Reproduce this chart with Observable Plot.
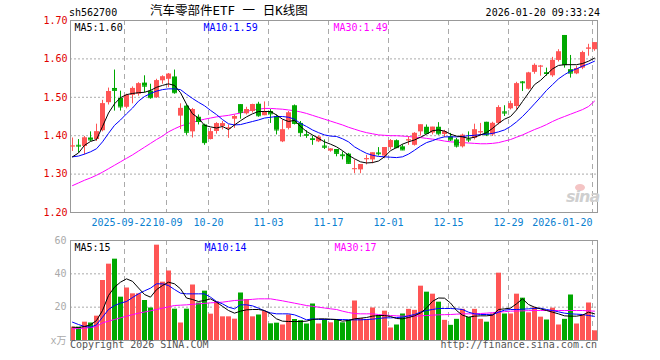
<!DOCTYPE html>
<html><head><meta charset="utf-8">
<script src="https://cdn.jsdelivr.net/npm/d3@7"></script>
<script src="https://cdn.jsdelivr.net/npm/@observablehq/plot@0.6"></script>
<style>
body{margin:0;background:#fff;}
#wrap{position:relative;width:660px;height:360px;overflow:hidden;background:#fff;font-family:"DejaVu Sans Mono","Noto Sans CJK SC",monospace;font-size:10px;}
.abs{position:absolute;white-space:nowrap;line-height:12px;}
</style></head><body><div id="wrap"></div>
<script>
const code = "sh562700";
const title = "汽车零部件ETF 一 日K线图";
const stamp = "2026-01-20 09:33:24";
const copyright = "Copyright 2026 SINA.COM";
const site = "http://finance.sina.com.cn";

const dates = [
"2025-09-09","2025-09-10","2025-09-11","2025-09-12","2025-09-15","2025-09-16","2025-09-17","2025-09-18","2025-09-19","2025-09-22","2025-09-23","2025-09-24","2025-09-25","2025-09-26","2025-09-29","2025-09-30",
"2025-10-09","2025-10-10","2025-10-13","2025-10-14","2025-10-15","2025-10-16","2025-10-17","2025-10-20","2025-10-21","2025-10-22","2025-10-23","2025-10-24","2025-10-27","2025-10-28","2025-10-29","2025-10-30","2025-10-31",
"2025-11-03","2025-11-04","2025-11-05","2025-11-06","2025-11-07","2025-11-10","2025-11-11","2025-11-12","2025-11-13","2025-11-14","2025-11-17","2025-11-18","2025-11-19","2025-11-20","2025-11-21","2025-11-24","2025-11-25","2025-11-26","2025-11-27","2025-11-28",
"2025-12-01","2025-12-02","2025-12-03","2025-12-04","2025-12-05","2025-12-08","2025-12-09","2025-12-10","2025-12-11","2025-12-12","2025-12-15","2025-12-16","2025-12-17","2025-12-18","2025-12-19","2025-12-22","2025-12-23","2025-12-24","2025-12-25","2025-12-26","2025-12-29","2025-12-30","2025-12-31",
"2026-01-05","2026-01-06","2026-01-07","2026-01-08","2026-01-09","2026-01-12","2026-01-13","2026-01-14","2026-01-15","2026-01-16","2026-01-19","2026-01-20"];

const open = [1.372,1.375,1.372,1.394,1.39,1.413,1.486,1.523,1.497,1.474,
1.505,1.508,1.537,1.516,1.499,1.543,1.547,1.553,1.451,1.477,
1.41,1.448,1.428,1.39,1.411,1.424,1.418,1.443,1.481,1.457,
1.463,1.482,1.452,1.463,1.45,1.384,1.419,1.478,1.432,1.403,
1.392,1.384,1.373,1.36,1.364,1.35,1.352,1.313,1.311,1.338,
1.337,1.355,1.347,1.369,1.387,1.371,1.387,1.375,1.41,1.422,
1.407,1.422,1.403,1.397,1.389,1.371,1.391,1.393,1.408,1.435,
1.402,1.432,1.462,1.47,1.476,1.54,1.521,1.565,1.58,1.564,
1.556,1.596,1.661,1.572,1.561,1.576,1.626,1.624];
const high = [1.394,1.39,1.398,1.41,1.43,1.492,1.524,1.571,1.516,1.508,
1.527,1.538,1.556,1.534,1.547,1.556,1.562,1.571,1.483,1.481,
1.471,1.454,1.43,1.419,1.434,1.437,1.428,1.454,1.481,1.474,
1.482,1.487,1.488,1.468,1.454,1.44,1.463,1.48,1.437,1.413,
1.399,1.399,1.389,1.366,1.364,1.358,1.354,1.337,1.325,1.349,
1.355,1.369,1.369,1.39,1.389,1.376,1.397,1.408,1.428,1.428,
1.422,1.434,1.414,1.406,1.393,1.404,1.41,1.43,1.432,1.435,
1.435,1.478,1.478,1.49,1.539,1.541,1.565,1.587,1.583,1.576,
1.604,1.624,1.661,1.609,1.581,1.62,1.638,1.642];
const low = [1.359,1.355,1.35,1.385,1.385,1.41,1.48,1.464,1.464,1.47,
1.483,1.503,1.512,1.495,1.497,1.534,1.525,1.508,1.416,1.401,
1.394,1.428,1.375,1.389,1.404,1.415,1.393,1.419,1.443,1.454,
1.459,1.448,1.452,1.432,1.402,1.382,1.415,1.428,1.396,1.393,
1.375,1.382,1.364,1.357,1.345,1.337,1.325,1.301,1.301,1.324,
1.327,1.347,1.34,1.363,1.366,1.361,1.375,1.373,1.399,1.404,
1.402,1.401,1.395,1.385,1.368,1.368,1.382,1.389,1.399,1.398,
1.398,1.428,1.45,1.467,1.467,1.515,1.519,1.56,1.555,1.555,
1.552,1.592,1.576,1.55,1.559,1.572,1.607,1.62];
const close = [1.373,1.373,1.394,1.389,1.41,1.483,1.515,1.518,1.475,1.505,
1.523,1.535,1.529,1.499,1.543,1.553,1.56,1.512,1.471,1.409,
1.468,1.437,1.382,1.41,1.431,1.431,1.42,1.45,1.461,1.468,
1.481,1.452,1.463,1.457,1.415,1.415,1.459,1.432,1.408,1.401,
1.39,1.396,1.37,1.365,1.354,1.348,1.328,1.314,1.325,1.34,
1.355,1.353,1.369,1.387,1.369,1.363,1.389,1.406,1.428,1.406,
1.422,1.405,1.41,1.389,1.373,1.401,1.389,1.415,1.41,1.402,
1.432,1.473,1.459,1.483,1.535,1.538,1.563,1.583,1.581,1.562,
1.596,1.618,1.585,1.563,1.575,1.616,1.628,1.642];
const volume = [8,8,11,10.5,14.6,36,45.8,48.8,26,31.5,
28,28,24,19.5,57.2,35,41.7,18.8,10.5,18.8,
33.3,22.5,29.6,15.8,23.2,14.2,14.2,12.8,28.5,24.6,
14.2,15.3,17.4,10,10.4,9.3,15.3,12.6,11.9,9.9,
21.9,9.9,12.6,10.6,12.6,10.6,12.2,23.7,13.2,12.6,
19.5,15,17.6,7.5,9.3,15.9,18.7,18.1,32.6,29,
27.8,23,12.1,9.1,12.7,18.7,13.8,18.7,12.7,11,
16,40.4,15.9,15.9,27.8,25.4,16.6,19.7,14,12.3,
19.4,9.3,12.7,27.3,9.9,15.3,22.5,5.8];

const ma5 = [1.345,1.355,1.375,1.385,1.39,1.424,1.459,1.483,1.499,1.507,
1.51,1.512,1.513,1.518,1.526,1.531,1.535,1.531,1.512,1.482,
1.457,1.446,1.427,1.423,1.42,1.424,1.416,1.428,1.439,1.449,
1.457,1.463,1.463,1.463,1.454,1.443,1.437,1.44,1.424,1.411,
1.402,1.393,1.384,1.378,1.371,1.361,1.349,1.34,1.332,1.329,
1.33,1.334,1.345,1.361,1.369,1.378,1.384,1.389,1.396,1.404,
1.413,1.415,1.412,1.404,1.399,1.397,1.393,1.396,1.402,1.408,
1.419,1.432,1.443,1.45,1.467,1.489,1.511,1.533,1.544,1.559,
1.574,1.583,1.585,1.585,1.585,1.588,1.594,1.602];
const ma10 = [1.345,1.347,1.352,1.358,1.366,1.384,1.406,1.427,1.441,1.457,
1.472,1.49,1.502,1.51,1.516,1.52,1.522,1.522,1.52,1.508,
1.497,1.487,1.478,1.466,1.455,1.442,1.431,1.428,1.429,1.433,
1.437,1.441,1.446,1.448,1.45,1.45,1.448,1.443,1.432,1.424,
1.415,1.408,1.402,1.399,1.398,1.392,1.384,1.371,1.362,1.354,
1.349,1.346,1.345,1.344,1.343,1.345,1.352,1.362,1.373,1.382,
1.387,1.393,1.397,1.397,1.397,1.398,1.4,1.401,1.403,1.404,
1.406,1.41,1.415,1.424,1.436,1.45,1.466,1.483,1.5,1.518,
1.533,1.548,1.559,1.568,1.574,1.581,1.587,1.594];
const ma30 = [1.27,1.277,1.284,1.29,1.297,1.305,1.314,1.323,1.332,1.341,
1.35,1.36,1.37,1.38,1.39,1.399,1.41,1.418,1.425,1.43,
1.435,1.439,1.443,1.446,1.449,1.451,1.453,1.456,1.459,1.463,
1.467,1.469,1.471,1.471,1.47,1.469,1.467,1.465,1.462,1.458,
1.453,1.448,1.443,1.438,1.433,1.428,1.422,1.417,1.412,1.408,
1.405,1.402,1.401,1.4,1.4,1.399,1.398,1.396,1.395,1.393,
1.391,1.389,1.386,1.384,1.383,1.382,1.381,1.38,1.379,1.379,
1.38,1.382,1.386,1.39,1.396,1.402,1.409,1.416,1.422,1.429,
1.437,1.444,1.45,1.456,1.462,1.468,1.476,1.49];

const volMa5 = [8,7.8,8.4,9.4,12,18,27,32,35,37,
35.5,31.5,27.6,26,30.5,33,35,34,31,25.5,
24.6,23.4,24,25,23,20.5,18,16.4,17.6,18.4,
18.6,18.6,18,16,13,11.6,11.4,11.4,11.4,11.6,
12.6,13,13,12.8,12.6,11.6,12,13,13.4,13.8,
14.6,15,15,14.4,13.2,13,13.8,14.8,16.5,19.5,
23.5,25.5,25.4,22.5,18,15.2,14,14.6,14.8,14.8,
15.2,18.6,19,19.4,22,25,21.6,20,19,18,
17,16,14.8,14.6,14.6,15.2,17,16];
const volMa10 = [11,9.6,8.4,8,9.4,14,18.6,21,22.4,23.4,
25.8,28,29.8,31.4,34,34,33,30.6,28.4,28,
28,28,28,26,23.4,22,20,19,21.4,21.4,
20.8,19.4,17.8,16.6,16,16,16,15.4,14,12.4,
13,12.6,12.6,12.6,12.6,12.6,12.4,12.4,12.4,12.6,
12.8,13.2,13.6,13.6,13.8,14,14.8,15.6,17,18,
18.6,19.2,19.2,19.2,19,18.6,17,16,15.6,15.6,
15.4,17,18.2,18.6,18.6,18.8,19,19.2,19.4,18.6,
18,17.2,16.4,16,15.8,15.6,15,14.5];
const volMa30 = [7,7.2,7.4,7.8,8.4,10.6,11.6,12.6,13.6,14.6,
15.5,16.4,17.1,17.8,18.6,19.4,20.2,21,21.2,21.4,
21.7,22,22.3,22.6,22.8,23,23.5,24,24.2,24.4,
24.7,25,25,25,24.4,23.8,23.1,22.4,21.7,21,
20.5,20,19.5,19,18.6,17.6,16.8,16.2,16,16,
16,15.6,15.2,15,14.8,14.6,14.6,14.6,14.8,15,
15.2,15.4,15.5,15.6,15.8,16,16,16,16.2,16.4,
16.7,17,17.3,17.6,17.7,17.8,17.9,18,18,18,
18,18,18,18,18,18,17.8,17.6];

const tickDates = ["2025-09-22","2025-10-09","2025-10-20","2025-11-03","2025-11-17","2025-12-01","2025-12-15","2025-12-29","2026-01-20"];
const tickLabels = ["2025-09-22","10-09","10-20","11-03","11-17","12-01","12-15","12-29","2026-01-20"];
const priceTicks = [1.20,1.30,1.40,1.50,1.60,1.70];
const volTicks = [0,20,40,60];
const volTickLabels = ["x万","20","40","60"];
const maNames = ["MA5","MA10","MA30"];
const priceMaLast = ["1.60","1.59","1.49"];
const volMaLast = ["15","14","17"];

// ---------- build ----------
const RED = "#ff5555", GREEN = "#00a800";
const MA_COLORS = ["#000000","#0000ff","#ff00ff"];
const GRID = "#aaaaaa", FRAME = "#999999", DATE = "#0a80d0";
const XMAX = 527 / 6;
const FONT = '"DejaVu Sans Mono","Noto Sans CJK SC",monospace';

const candles = dates.map((date, i) => ({i, date, open: open[i], high: high[i], low: low[i], close: close[i], volume: volume[i]}));
const up = candles.filter(d => d.close >= d.open);
const down = candles.filter(d => d.close < d.open);
const ticks = tickDates.map((t, k) => ({x: dates.indexOf(t), label: tickLabels[k]}));
const cx = (d) => d.i + 2 / 6;
const right = (d) => d.i + 5 / 6;

function candleMarks(data, color) {
  return [
    Plot.ruleX(data, {x: cx, y1: "low", y2: "high", stroke: color}),
    Plot.rect(data, {x1: "i", x2: right, y1: "open", y2: "close", fill: color}),
    Plot.ruleY(data, {x1: "i", x2: right, y: "close", stroke: color})
  ];
}
function maLine(values, color) {
  return Plot.line(values, {x: (d, i) => i + 2 / 6, y: d => d, stroke: color, strokeWidth: 1});
}
function legend(names, values, offsets) {
  return names.map((n, k) => Plot.text([`${n}:${values[k]}`], {
    text: d => d, frameAnchor: "top-left", dx: offsets[k], dy: 3, lineAnchor: "top",
    textAnchor: "start", fill: MA_COLORS[k]
  }));
}
function dateLabels(data, opts) {
  return Plot.text(data, {x: "x", text: "label", frameAnchor: "bottom", dy: 10, lineAnchor: "middle", fill: DATE, ...opts});
}

const price = Plot.plot({
  width: 660, height: 232,
  marginLeft: 70, marginRight: 63, marginTop: 20, marginBottom: 20,
  x: {domain: [0, XMAX], axis: null},
  y: {domain: [1.2, 1.7], axis: null},
  style: {fontFamily: FONT, fontSize: "10px", background: "transparent", overflow: "visible"},
  marks: [
    Plot.ruleY(priceTicks.slice(1, -1), {stroke: GRID, strokeDasharray: "2,2"}),
    Plot.ruleX(ticks, {x: "x", stroke: GRID, strokeDasharray: "5,4"}),
    Plot.frame({stroke: FRAME}),
    maLine(ma30, MA_COLORS[2]),
    ...candleMarks(up, RED),
    ...candleMarks(down, GREEN),
    maLine(ma10, MA_COLORS[1]),
    maLine(ma5, MA_COLORS[0]),
    Plot.text(priceTicks, {y: d => d, text: d => d.toFixed(2), frameAnchor: "left", textAnchor: "end", dx: -3, fill: "#e00000"}),
    dateLabels(ticks.slice(0, 1), {dx: -3}),
    dateLabels(ticks.slice(1, 2), {dx: 1}),
    dateLabels(ticks.slice(2, -1), {}),
    dateLabels(ticks.slice(-1), {textAnchor: "end"}),
    ...legend(maNames, priceMaLast, [4, 133, 263])
  ]
});

const vol = Plot.plot({
  width: 660, height: 128,
  marginLeft: 70, marginRight: 63, marginTop: 8, marginBottom: 20,
  x: {domain: [0, XMAX], axis: null},
  y: {domain: [0, 60], axis: null},
  style: {fontFamily: FONT, fontSize: "10px", background: "transparent", overflow: "visible"},
  marks: [
    Plot.ruleY(volTicks.slice(1, -1), {stroke: GRID, strokeDasharray: "2,2"}),
    Plot.ruleX(ticks, {x: "x", stroke: GRID, strokeDasharray: "5,4"}),
    Plot.rect(up, {x1: "i", x2: right, y1: 0, y2: "volume", fill: RED}),
    Plot.rect(down, {x1: "i", x2: right, y1: 0, y2: "volume", fill: GREEN}),
    Plot.frame({stroke: FRAME}),
    maLine(volMa30, MA_COLORS[2]),
    maLine(volMa10, MA_COLORS[1]),
    maLine(volMa5, MA_COLORS[0]),
    Plot.text(volTicks, {y: d => d, text: (d, k) => volTickLabels[k], frameAnchor: "left", textAnchor: "end", dx: -4, fill: "#aaaaaa"}),
    ...legend(maNames, volMaLast, [4, 134, 264])
  ]
});

const wrap = document.getElementById("wrap");
price.style.position = "absolute"; price.style.left = "0px"; price.style.top = "0px";
vol.style.position = "absolute"; vol.style.left = "0px"; vol.style.top = "232px";
wrap.appendChild(price);
wrap.appendChild(vol);

function addText(txt, css) {
  const el = document.createElement("div");
  el.className = "abs";
  el.textContent = txt;
  Object.assign(el.style, css);
  wrap.appendChild(el);
  return el;
}
addText(code, {left: "69px", top: "7px", color: "#000"});
addText(title, {left: "150px", top: "3px", fontSize: "12.5px", lineHeight: "16px", color: "#000"});
addText(stamp, {right: "60px", top: "7px", color: "#000"});
addText(copyright, {left: "70px", top: "339px", color: "#555"});
addText(site, {right: "63px", top: "339px", color: "#555"});
// faint sina watermark
const eye = document.createElement("div");
Object.assign(eye.style, {position: "absolute", left: "575px", top: "184px", width: "10px", height: "7px", borderRadius: "50%", background: "#f4c4c4"});
wrap.appendChild(eye);
addText("sina", {left: "566px", top: "189px", fontFamily: "'DejaVu Sans'", fontStyle: "italic", fontWeight: "bold", fontSize: "16px", lineHeight: "16px", color: "#cfcfcf", letterSpacing: "-1px"});
</script>
</body></html>
